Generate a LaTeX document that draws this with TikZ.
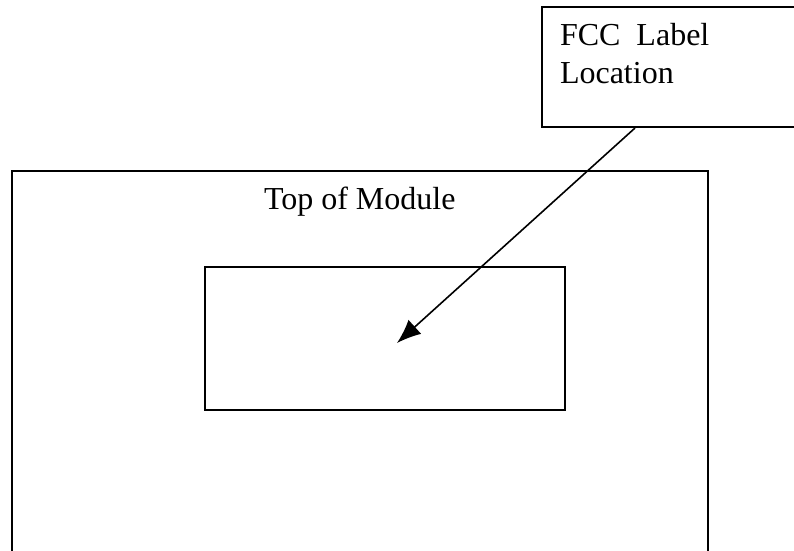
\documentclass[tikz,border=0pt]{standalone}
\usepackage{fontspec}
\setmainfont{Liberation Serif}
\usetikzlibrary{arrows.meta}

\begin{document}
\begin{tikzpicture}[x=1pt,y=-1pt,line width=2pt,
    txt/.style={font=\fontsize{32}{38}\selectfont,inner sep=0pt,anchor=base west},
    box/.style={draw,inner sep=0pt,anchor=north west}]
    \useasboundingbox (0,0) rectangle (794,550);
    % top of module, open at the bottom
    \draw (12,570) -- (12,171) -- (708,171) -- (708,570);
    \node[txt] (toptxt) at (263,209) {Top of Module};
    \node[box,minimum width=360pt,minimum height=143pt] (spotbox) at (204,266) {};
    \node[box,minimum width=300pt,minimum height=120pt] (label) at (541,6) {};
    \node[txt] (labeltxt) at (559,45) {FCC\ \ Label};
    \node[txt] (loctxt) at (559,83) {Location};
    \coordinate (spot) at (397,343);
    \draw[line width=1.6pt,-{Latex[length=24pt,width=19pt]}] ([xshift=94pt]label.south west) -- (spot);
\end{tikzpicture}
\end{document}
